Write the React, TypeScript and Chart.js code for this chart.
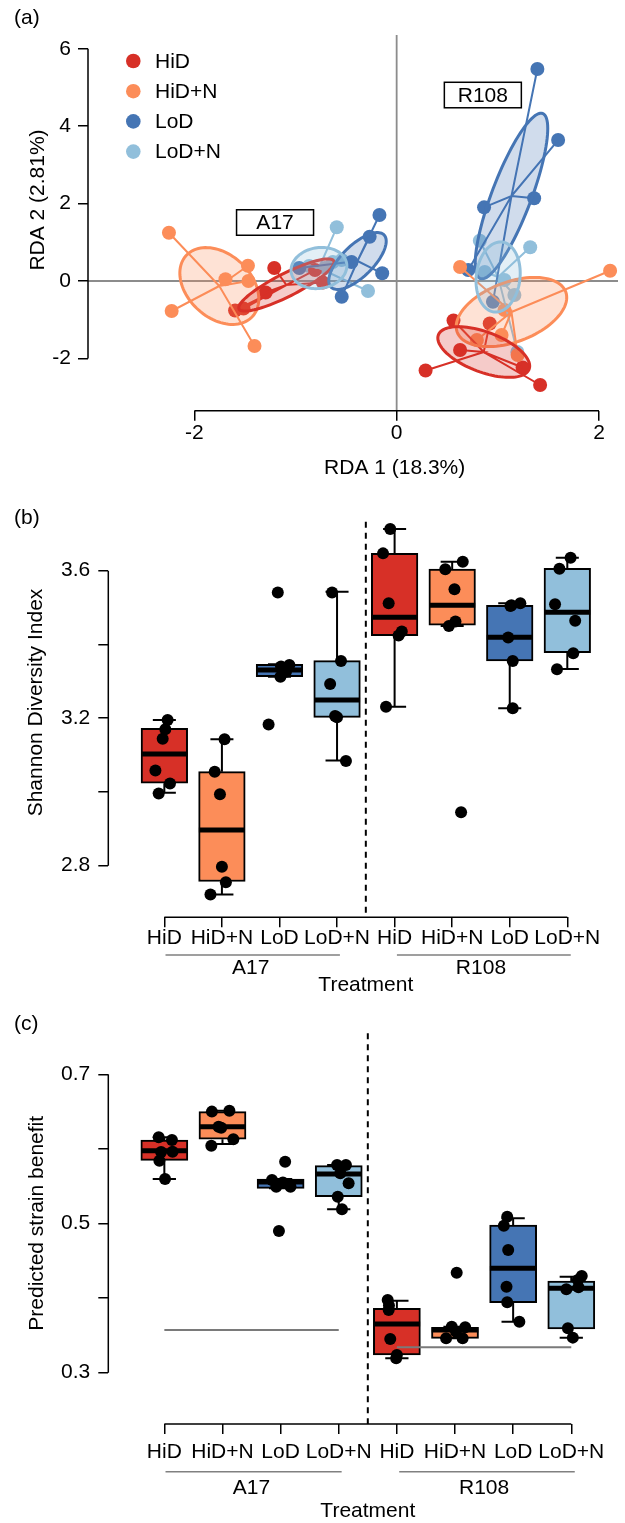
import React, { useEffect, useRef } from "react";
import { Chart, registerables } from "chart.js";

Chart.register(...registerables);

const FONT = "'Liberation Sans', Arial, Helvetica, sans-serif";
const FS = 21;
const FIG_W = 625;

// ---------------- shared categories ----------------
const treatments = ["HiD", "HiD+N", "LoD", "LoD+N"];
const treatmentColors = ["#D73027", "#FC8D59", "#4575B4", "#91BFDB"];
const strainNames = ["A17", "R108"];

// ---------------- panel (a): RDA ordination ----------------
const rdaXTicks = [-2, 0, 2];
const rdaYTicks = [-2, 0, 2, 4, 6];
const rdaXTitle = "RDA 1 (18.3%)";
const rdaYTitle = "RDA 2 (2.81%)";

const A17_HiD = [[-1.21, 0.336], [-1.295, -0.297], [-1.597, -0.762], [-1.514, -0.711], [-0.807, 0.284], [-0.729, -0.039]];
const A17_HiDN = [[-2.251, 1.248], [-1.47, 0.395], [-1.465, 0.0], [-1.692, 0.044], [-2.224, -0.775], [-1.405, -1.68]];
const A17_LoD = [[-0.17, 1.705], [-0.267, 1.145], [-0.143, 0.199], [-0.543, -0.406], [-0.963, 0.336], [-0.446, 0.491]];
const A17_LoDN = [[-0.592, 1.388], [-0.283, -0.258], [-0.543, 0.543], [-0.865, 0.388], [-0.709, 0.336], [-0.631, 0.491]];
const R108_HiD = [[0.562, -1.021], [0.92, -1.098], [0.627, -1.783], [0.286, -2.313], [1.245, -2.235], [1.418, -2.687]];
const R108_HiDN = [[0.627, 0.362], [2.11, 0.266], [1.037, -1.395], [1.196, -1.912], [1.066, -0.749], [0.793, -1.525]];
const R108_LoD = [[1.391, 5.478], [1.596, 3.643], [1.359, 2.137], [0.864, 1.904], [0.708, 0.284], [0.952, -0.535]];
const R108_LoDN = [[0.822, 1.041], [1.32, 0.871], [0.871, 0.233], [1.066, 0.026], [1.164, -0.362], [1.193, -1.835]];

// ellipse: [centre x, centre y, semi-axis a (x, y), semi-axis b (x, y)] in RDA units
const A17_HiD_ell = [-1.09, -0.103, 0.468, 0.62, 0.05, -0.266];
const A17_HiDN_ell = [-1.753, -0.129, 0.332, -0.775, -0.205, -0.62];
const A17_LoD_ell = [-0.387, 0.517, 0.263, 0.672, 0.107, -0.297];
const A17_LoDN_ell = [-0.768, 0.336, 0.273, 0.129, 0.039, -0.517];
const R108_HiD_ell = [0.861, -1.835, 0.449, -0.439, -0.068, -0.486];
const R108_HiDN_ell = [1.135, -0.801, 0.537, 0.517, 0.1, -0.729];
const R108_LoD_ell = [1.135, 2.196, 0.309, 2.132, 0.182, -0.186];
const R108_LoDN_ell = [1.003, 0.103, 0.039, 0.904, 0.215, -0.065];

const strainLabelPos = [[-1.202, 1.512], [0.852, 4.806]];

// ---------------- panels (b) and (c): box plots ----------------
const boxTickLabels = ["HiD", "HiD+N", "LoD", "LoD+N", "HiD", "HiD+N", "LoD", "LoD+N"];
const boxPositions = [1, 2, 3, 4, 5, 6, 7, 8];
const boxColors = [...treatmentColors, ...treatmentColors];
const xTitle = "Treatment";

// (b) Shannon diversity
const shannonYTicks = [2.8, 3.0, 3.2, 3.4, 3.6];
const shannonYLabels = [2.8, 3.2, 3.6];
const shannonQ1 = [3.0235, 2.757, 3.3125, 3.2024, 3.4237, 3.452, 3.355, 3.3776];
const shannonMed = [3.103, 2.897, 3.331, 3.249, 3.4736, 3.506, 3.4194, 3.4872];
const shannonQ3 = [3.1726, 3.055, 3.346, 3.356, 3.647, 3.6046, 3.506, 3.6065];
const shannonLo = [2.998, 2.722, 3.3125, 3.085, 3.2312, 3.45, 3.2268, 3.3334];
const shannonHi = [3.195, 3.143, 3.346, 3.543, 3.713, 3.6244, 3.5116, 3.635];
const shannonVals = [
  [3.195, 3.17, 3.144, 3.058, 3.023, 2.996],
  [3.143, 3.055, 2.994, 2.797, 2.755, 2.722],
  [3.541, 3.183, 3.34, 3.344, 3.3125, 3.326],
  [3.541, 3.355, 3.293, 3.206, 3.2024, 3.084],
  [3.713, 3.647, 3.512, 3.435, 3.424, 3.231],
  [3.624, 3.604, 3.55, 3.462, 3.45, 2.945],
  [3.506, 3.512, 3.419, 3.355, 3.227, 3.504],
  [3.635, 3.605, 3.509, 3.464, 3.376, 3.333],
];
const shannonJitter = [
  [0.057, 0.017, -0.029, -0.155, 0.098, -0.098],
  [0.046, -0.125, -0.034, 0, 0.069, -0.199],
  [-0.029, -0.189, 0.027, 0.172, 0.017, 0.113],
  [-0.086, 0.069, -0.12, -0.034, 0.0, 0.155],
  [-0.076, -0.201, -0.103, 0.125, 0.069, -0.149],
  [0.184, -0.12, 0.04, 0.057, -0.057, 0.155],
  [0.029, 0.184, -0.027, 0.052, 0.052, 0.012],
  [0.057, -0.137, -0.213, 0.137, 0.103, -0.179],
];

// (c) predicted strain benefit
const benefitYTicks = [0.3, 0.4, 0.5, 0.6, 0.7];
const benefitYLabels = [0.3, 0.5, 0.7];
const benefitQ1 = [0.5847, 0.6129, 0.5472, 0.5359, 0.3237, 0.3461, 0.3938, 0.3586];
const benefitMed = [0.5976, 0.6298, 0.5555, 0.5664, 0.3653, 0.3572, 0.44, 0.4131];
const benefitQ3 = [0.6119, 0.6499, 0.5597, 0.5775, 0.3863, 0.3609, 0.498, 0.4229];
const benefitLo = [0.5597, 0.6066, 0.5472, 0.519, 0.3193, 0.3461, 0.3684, 0.347];
const benefitHi = [0.6155, 0.6512, 0.5597, 0.5784, 0.3965, 0.3617, 0.507, 0.4287];
const benefitVals = [
  [0.6155, 0.612, 0.5963, 0.596, 0.5842, 0.5597],
  [0.65, 0.6512, 0.6298, 0.6284, 0.6043, 0.6129],
  [0.5829, 0.5583, 0.5493, 0.5493, 0.555, 0.49],
  [0.5784, 0.5784, 0.5539, 0.5359, 0.519, 0.5673],
  [0.3975, 0.3841, 0.3452, 0.3237, 0.3193, 0.39],
  [0.434, 0.3617, 0.3609, 0.3461, 0.3461, 0.355],
  [0.5091, 0.4971, 0.4645, 0.4153, 0.3944, 0.3684],
  [0.4296, 0.4145, 0.4118, 0.3595, 0.347, 0.4243],
];
const benefitJitter = [
  [-0.097, 0.131, 0.141, -0.056, -0.085, 0.012],
  [-0.182, 0.119, -0.068, -0.022, -0.192, 0.187],
  [0.078, -0.148, -0.075, 0.17, 0.039, -0.029],
  [-0.029, 0.124, 0.17, -0.017, 0.056, 0.027],
  [-0.158, -0.141, -0.114, 0, -0.012, -0.136],
  [0.029, -0.056, 0.175, -0.153, 0.131, 0.017],
  [-0.102, -0.16, -0.085, -0.114, -0.102, 0.107],
  [0.18, 0.124, -0.085, -0.058, 0.027, 0.112],
];
// reference (null) levels per strain: [from position, to position, value]
const benefitRefA17 = [1, 4, 0.3572];
const benefitRefR108 = [5, 8, 0.334];

// ---------------- helpers ----------------
function rgba(hex: string, a: number) {
  const n = parseInt(hex.slice(1), 16);
  return `rgba(${(n >> 16) & 255},${(n >> 8) & 255},${n & 255},${a})`;
}

function drawRotated(ctx: CanvasRenderingContext2D, text: string, x: number, y: number) {
  ctx.save();
  ctx.translate(x, y);
  ctx.rotate(-Math.PI / 2);
  ctx.textAlign = "center";
  ctx.textBaseline = "middle";
  ctx.fillText(text, 0, 0);
  ctx.restore();
}

function axisCommon(tickPad: number) {
  return {
    type: "linear" as const,
    bounds: "data" as const,
    offset: false,
    beginAtZero: false,
    border: { display: false },
    grid: {
      display: true,
      drawOnChartArea: false,
      drawTicks: true,
      tickLength: 10,
      color: "#000",
      tickColor: "#000",
      lineWidth: 1.5,
      tickWidth: 1.5,
      offset: false,
    },
    ticks: {
      autoSkip: false,
      maxRotation: 0,
      minRotation: 0,
      padding: tickPad,
      color: "#000",
      font: { family: FONT, size: FS, lineHeight: 1 },
    },
  };
}

// ---------------- panel (a) ----------------
function buildRda(canvas: HTMLCanvasElement) {
  const H = 490, top = 35, bottom = 410.7, left = 88;
  const groups = [
    { pts: A17_HiDN, ell: A17_HiDN_ell, c: 1 },
    { pts: A17_HiD, ell: A17_HiD_ell, c: 0 },
    { pts: A17_LoD, ell: A17_LoD_ell, c: 2 },
    { pts: A17_LoDN, ell: A17_LoDN_ell, c: 3 },
    { pts: R108_HiDN, ell: R108_HiDN_ell, c: 1 },
    { pts: R108_HiD, ell: R108_HiD_ell, c: 0 },
    { pts: R108_LoD, ell: R108_LoD_ell, c: 2 },
    { pts: R108_LoDN, ell: R108_LoDN_ell, c: 3 },
  ];
  const datasets: any[] = [];
  groups.forEach((g) => {
    datasets.push({
      type: "scatter",
      data: g.pts.map(([x, y]) => ({ x, y })),
      backgroundColor: treatmentColors[g.c],
      pointRadius: 7,
      pointBorderWidth: 0,
      order: 3,
    });
  });
  groups.forEach((g) => {
    const d: any[] = [];
    g.pts.forEach(([x, y]) => {
      d.push({ x: g.ell[0], y: g.ell[1] });
      d.push({ x, y });
    });
    datasets.push({
      type: "line",
      data: d,
      borderColor: treatmentColors[g.c],
      borderWidth: 2,
      pointRadius: 0,
      showLine: true,
      fill: false,
      tension: 0,
      order: 2,
    });
  });

  const plugin = {
    id: "rdaExtras",
    beforeDatasetsDraw(chart: any) {
      const { ctx, chartArea, scales } = chart;
      const xs = scales.x, ys = scales.y;
      ctx.save();
      ctx.strokeStyle = "#8c8c8c";
      ctx.lineWidth = 1.8;
      const x0 = xs.getPixelForValue(0), y0 = ys.getPixelForValue(0);
      ctx.beginPath();
      ctx.moveTo(x0, chartArea.top);
      ctx.lineTo(x0, chartArea.bottom);
      ctx.moveTo(chartArea.left, y0);
      ctx.lineTo(chartArea.right, y0);
      ctx.stroke();
      ctx.restore();
    },
    afterDatasetsDraw(chart: any) {
      const { ctx, chartArea, scales } = chart;
      const xs = scales.x, ys = scales.y;
      ctx.save();
      ctx.beginPath();
      ctx.rect(chartArea.left, chartArea.top, chartArea.right - chartArea.left, chartArea.bottom - chartArea.top);
      ctx.clip();
      groups.forEach((g) => {
        const [cx, cy, ax, ay, bx, by] = g.ell;
        ctx.beginPath();
        const n = 96;
        for (let i = 0; i <= n; i++) {
          const t = (i / n) * Math.PI * 2;
          const px = xs.getPixelForValue(cx + ax * Math.cos(t) + bx * Math.sin(t));
          const py = ys.getPixelForValue(cy + ay * Math.cos(t) + by * Math.sin(t));
          if (i === 0) ctx.moveTo(px, py);
          else ctx.lineTo(px, py);
        }
        ctx.closePath();
        ctx.fillStyle = rgba(treatmentColors[g.c], 0.25);
        ctx.fill();
        ctx.strokeStyle = treatmentColors[g.c];
        ctx.lineWidth = 3;
        ctx.stroke();
      });
      ctx.restore();
    },
    afterDraw(chart: any) {
      const { ctx, chartArea, scales } = chart;
      const xs = scales.x, ys = scales.y;
      ctx.save();
      // R-style axis lines
      ctx.strokeStyle = "#000";
      ctx.lineWidth = 1.5;
      ctx.beginPath();
      ctx.moveTo(chartArea.left, ys.getPixelForValue(rdaYTicks[0]));
      ctx.lineTo(chartArea.left, ys.getPixelForValue(rdaYTicks[rdaYTicks.length - 1]));
      ctx.moveTo(xs.getPixelForValue(rdaXTicks[0]), chartArea.bottom);
      ctx.lineTo(xs.getPixelForValue(rdaXTicks[rdaXTicks.length - 1]), chartArea.bottom);
      ctx.stroke();

      ctx.font = `${FS}px ${FONT}`;
      ctx.fillStyle = "#000";
      // legend
      treatments.forEach((t, i) => {
        const yy = 61 + i * 30.2;
        ctx.beginPath();
        ctx.arc(133.3, yy, 7.3, 0, Math.PI * 2);
        ctx.fillStyle = treatmentColors[i];
        ctx.fill();
        ctx.fillStyle = "#000";
        ctx.textAlign = "left";
        ctx.textBaseline = "middle";
        ctx.fillText(t, 155, yy + 1);
      });
      // strain label boxes
      strainNames.forEach((s, i) => {
        const px = xs.getPixelForValue(strainLabelPos[i][0]);
        const py = ys.getPixelForValue(strainLabelPos[i][1]);
        const w = 77, h = 25.5;
        ctx.fillStyle = "#fff";
        ctx.fillRect(px - w / 2, py - h / 2, w, h);
        ctx.strokeStyle = "#000";
        ctx.lineWidth = 1.5;
        ctx.strokeRect(px - w / 2, py - h / 2, w, h);
        ctx.fillStyle = "#000";
        ctx.textAlign = "center";
        ctx.textBaseline = "middle";
        ctx.fillText(s, px, py + 1);
      });
      // titles
      ctx.textAlign = "left";
      ctx.textBaseline = "middle";
      ctx.fillText("(a)", 14, 18);
      ctx.textAlign = "center";
      ctx.fillText(rdaXTitle, xs.getPixelForValue(0) - 2, 468);
      drawRotated(ctx, rdaYTitle, 38, 200);
      ctx.restore();
    },
  };

  const xa: any = axisCommon(2.5);
  xa.min = -3.051;
  xa.max = 2.188;
  xa.position = "bottom";
  xa.afterFit = (s: any) => { s.height = H - bottom; };
  xa.afterBuildTicks = (s: any) => { s.ticks = rdaXTicks.map((v) => ({ value: v })); };
  xa.ticks.callback = (v: number) => String(v);

  const ya: any = axisCommon(7);
  ya.min = -3.351;
  ya.max = 6.357;
  ya.position = "left";
  ya.afterFit = (s: any) => { s.width = left; };
  ya.afterBuildTicks = (s: any) => { s.ticks = rdaYTicks.map((v) => ({ value: v })); };
  ya.ticks.callback = (v: number) => String(v);

  return new Chart(canvas, {
    type: "scatter",
    data: { datasets },
    options: {
      responsive: false,
      maintainAspectRatio: false,
      animation: false,
      devicePixelRatio: 1,
      events: [],
      layout: { padding: { top, left: 0, right: 0, bottom: 0 } },
      plugins: { legend: { display: false }, tooltip: { enabled: false }, title: { display: false } },
      scales: { x: xa, y: ya },
    } as any,
    plugins: [plugin],
  });
}

// ---------------- panels (b), (c) ----------------
type BoxPanel = {
  H: number; top: number; bottom: number; left: number;
  xMin: number; xMax: number; yMin: number; yMax: number;
  yTicks: number[]; yLabels: number[];
  q1: number[]; med: number[]; q3: number[]; lo: number[]; hi: number[];
  vals: number[][]; jit: number[][];
  refs: number[][];
  xTickPad: number; yTickPad: number;
  yTitle: string; yTitleX: number; yTitleY: number;
  label: string; labelY: number;
  underlineY: number; groupY: number; treatY: number;
};

function buildBox(canvas: HTMLCanvasElement, P: BoxPanel) {
  const unit = (FIG_W - P.left) / (P.xMax - P.xMin);
  const barPx = 0.8 * unit;
  const pts: any[] = [];
  P.vals.forEach((arr, i) => arr.forEach((v, k) => pts.push({ x: boxPositions[i] + P.jit[i][k], y: v })));
  const datasets: any[] = [
    { type: "scatter", data: pts, backgroundColor: "#000", pointRadius: 6, pointBorderWidth: 0, order: 0 },
  ];
  P.refs.forEach((r) => {
    datasets.push({
      type: "line",
      data: [{ x: r[0], y: r[2] }, { x: r[1], y: r[2] }],
      borderColor: "#7a7a7a",
      borderWidth: 2,
      pointRadius: 0,
      showLine: true,
      fill: false,
      order: 1,
    });
  });
  const barIndex = datasets.length;
  datasets.push({
    type: "bar",
    data: boxPositions.map((p, i) => ({ x: p, y: [P.q1[i], P.q3[i]] })),
    backgroundColor: boxColors,
    borderColor: "#000",
    borderWidth: 2,
    borderSkipped: false,
    barThickness: barPx,
    order: 2,
  });

  const plugin = {
    id: "boxExtras",
    afterDatasetDraw(chart: any, args: any) {
      if (args.index !== barIndex) return;
      const { ctx, scales } = chart;
      const xs = scales.x, ys = scales.y;
      ctx.save();
      ctx.strokeStyle = "#000";
      boxPositions.forEach((p, i) => {
        const xc = xs.getPixelForValue(p);
        // whiskers
        ctx.lineWidth = 2;
        ctx.beginPath();
        ctx.moveTo(xc, ys.getPixelForValue(P.q3[i]));
        ctx.lineTo(xc, ys.getPixelForValue(P.hi[i]));
        ctx.moveTo(xc, ys.getPixelForValue(P.q1[i]));
        ctx.lineTo(xc, ys.getPixelForValue(P.lo[i]));
        ctx.moveTo(xs.getPixelForValue(p - 0.2), ys.getPixelForValue(P.hi[i]));
        ctx.lineTo(xs.getPixelForValue(p + 0.2), ys.getPixelForValue(P.hi[i]));
        ctx.moveTo(xs.getPixelForValue(p - 0.2), ys.getPixelForValue(P.lo[i]));
        ctx.lineTo(xs.getPixelForValue(p + 0.2), ys.getPixelForValue(P.lo[i]));
        ctx.stroke();
        // median
        ctx.lineWidth = 5;
        ctx.beginPath();
        ctx.moveTo(xs.getPixelForValue(p - 0.4), ys.getPixelForValue(P.med[i]));
        ctx.lineTo(xs.getPixelForValue(p + 0.4), ys.getPixelForValue(P.med[i]));
        ctx.stroke();
      });
      ctx.restore();
    },
    afterDraw(chart: any) {
      const { ctx, chartArea, scales } = chart;
      const xs = scales.x, ys = scales.y;
      ctx.save();
      ctx.strokeStyle = "#000";
      ctx.lineWidth = 1.5;
      ctx.beginPath();
      ctx.moveTo(chartArea.left, ys.getPixelForValue(P.yTicks[0]));
      ctx.lineTo(chartArea.left, ys.getPixelForValue(P.yTicks[P.yTicks.length - 1]));
      ctx.moveTo(xs.getPixelForValue(boxPositions[0]), chartArea.bottom);
      ctx.lineTo(xs.getPixelForValue(boxPositions[boxPositions.length - 1]), chartArea.bottom);
      ctx.stroke();
      // dashed separator between strains
      ctx.setLineDash([6, 5]);
      ctx.lineWidth = 2;
      ctx.beginPath();
      const xd = xs.getPixelForValue(4.5);
      ctx.moveTo(xd, chartArea.top);
      ctx.lineTo(xd, chartArea.bottom);
      ctx.stroke();
      ctx.setLineDash([]);
      // strain underlines and labels
      ctx.strokeStyle = "#808080";
      ctx.lineWidth = 1.5;
      ctx.beginPath();
      ctx.moveTo(xs.getPixelForValue(1.02), P.underlineY);
      ctx.lineTo(xs.getPixelForValue(4.05), P.underlineY);
      ctx.moveTo(xs.getPixelForValue(5.04), P.underlineY);
      ctx.lineTo(xs.getPixelForValue(8.06), P.underlineY);
      ctx.stroke();
      ctx.font = `${FS}px ${FONT}`;
      ctx.fillStyle = "#000";
      ctx.textAlign = "center";
      ctx.textBaseline = "middle";
      ctx.fillText(strainNames[0], xs.getPixelForValue(2.5), P.groupY);
      ctx.fillText(strainNames[1], xs.getPixelForValue(6.5), P.groupY);
      ctx.fillText(xTitle, xs.getPixelForValue(4.5), P.treatY);
      drawRotated(ctx, P.yTitle, P.yTitleX, P.yTitleY);
      ctx.textAlign = "left";
      ctx.fillText(P.label, 14, P.labelY);
      ctx.restore();
    },
  };

  const xa: any = axisCommon(P.xTickPad);
  xa.min = P.xMin;
  xa.max = P.xMax;
  xa.position = "bottom";
  xa.afterFit = (s: any) => { s.height = P.H - P.bottom; };
  xa.afterBuildTicks = (s: any) => { s.ticks = boxPositions.map((v) => ({ value: v })); };
  xa.ticks.callback = (v: number) => boxTickLabels[Math.round(v) - 1] ?? "";

  const ya: any = axisCommon(P.yTickPad);
  ya.min = P.yMin;
  ya.max = P.yMax;
  ya.position = "left";
  ya.afterFit = (s: any) => { s.width = P.left; };
  ya.afterBuildTicks = (s: any) => { s.ticks = P.yTicks.map((v) => ({ value: v })); };
  ya.ticks.callback = (v: number) => (P.yLabels.some((l) => Math.abs(l - v) < 1e-9) ? v.toFixed(1) : "");

  return new Chart(canvas, {
    type: "scatter",
    data: { datasets },
    options: {
      responsive: false,
      maintainAspectRatio: false,
      animation: false,
      devicePixelRatio: 1,
      events: [],
      layout: { padding: { top: P.top, left: 0, right: 0, bottom: 0 } },
      plugins: { legend: { display: false }, tooltip: { enabled: false }, title: { display: false } },
      scales: { x: xa, y: ya },
    } as any,
    plugins: [plugin],
  });
}

const panelB: BoxPanel = {
  H: 510, top: 31.7, bottom: 427.3, left: 108.3,
  xMin: 0.0264, xMax: 8.898, yMin: 2.66, yMax: 3.7329,
  yTicks: shannonYTicks, yLabels: shannonYLabels,
  q1: shannonQ1, med: shannonMed, q3: shannonQ3, lo: shannonLo, hi: shannonHi,
  vals: shannonVals, jit: shannonJitter, refs: [],
  xTickPad: 0, yTickPad: 8,
  yTitle: "Shannon Diversity Index", yTitleX: 36, yTitleY: 212.5,
  label: "(b)", labelY: 28,
  underlineY: 465, groupY: 478, treatY: 495,
};

const panelC: BoxPanel = {
  H: 523, top: 33.3, bottom: 424, left: 108.3,
  xMin: 0.0359, xMax: 8.821, yMin: 0.2312, yMax: 0.755,
  yTicks: benefitYTicks, yLabels: benefitYLabels,
  q1: benefitQ1, med: benefitMed, q3: benefitQ3, lo: benefitLo, hi: benefitHi,
  vals: benefitVals, jit: benefitJitter, refs: [benefitRefA17, benefitRefR108],
  xTickPad: 8, yTickPad: 8,
  yTitle: "Predicted strain benefit", yTitleX: 37, yTitleY: 223.3,
  label: "(c)", labelY: 24,
  underlineY: 471.7, groupY: 488.3, treatY: 511.7,
};

export default function App() {
  const aRef = useRef<HTMLCanvasElement>(null);
  const bRef = useRef<HTMLCanvasElement>(null);
  const cRef = useRef<HTMLCanvasElement>(null);

  useEffect(() => {
    const charts = [
      buildRda(aRef.current as HTMLCanvasElement),
      buildBox(bRef.current as HTMLCanvasElement, panelB),
      buildBox(cRef.current as HTMLCanvasElement, panelC),
    ];
    return () => charts.forEach((c) => c.destroy());
  }, []);

  const cs = (top: number, h: number): React.CSSProperties => ({
    position: "absolute", left: 0, top, width: FIG_W, height: h, display: "block",
  });

  return (
    <div style={{ position: "absolute", left: 0, top: 0, width: FIG_W, height: 1523, background: "#fff", overflow: "hidden" }}>
      <canvas ref={aRef} width={FIG_W} height={490} style={cs(0, 490)} />
      <canvas ref={bRef} width={FIG_W} height={510} style={cs(490, 510)} />
      <canvas ref={cRef} width={FIG_W} height={523} style={cs(1000, 523)} />
    </div>
  );
}
